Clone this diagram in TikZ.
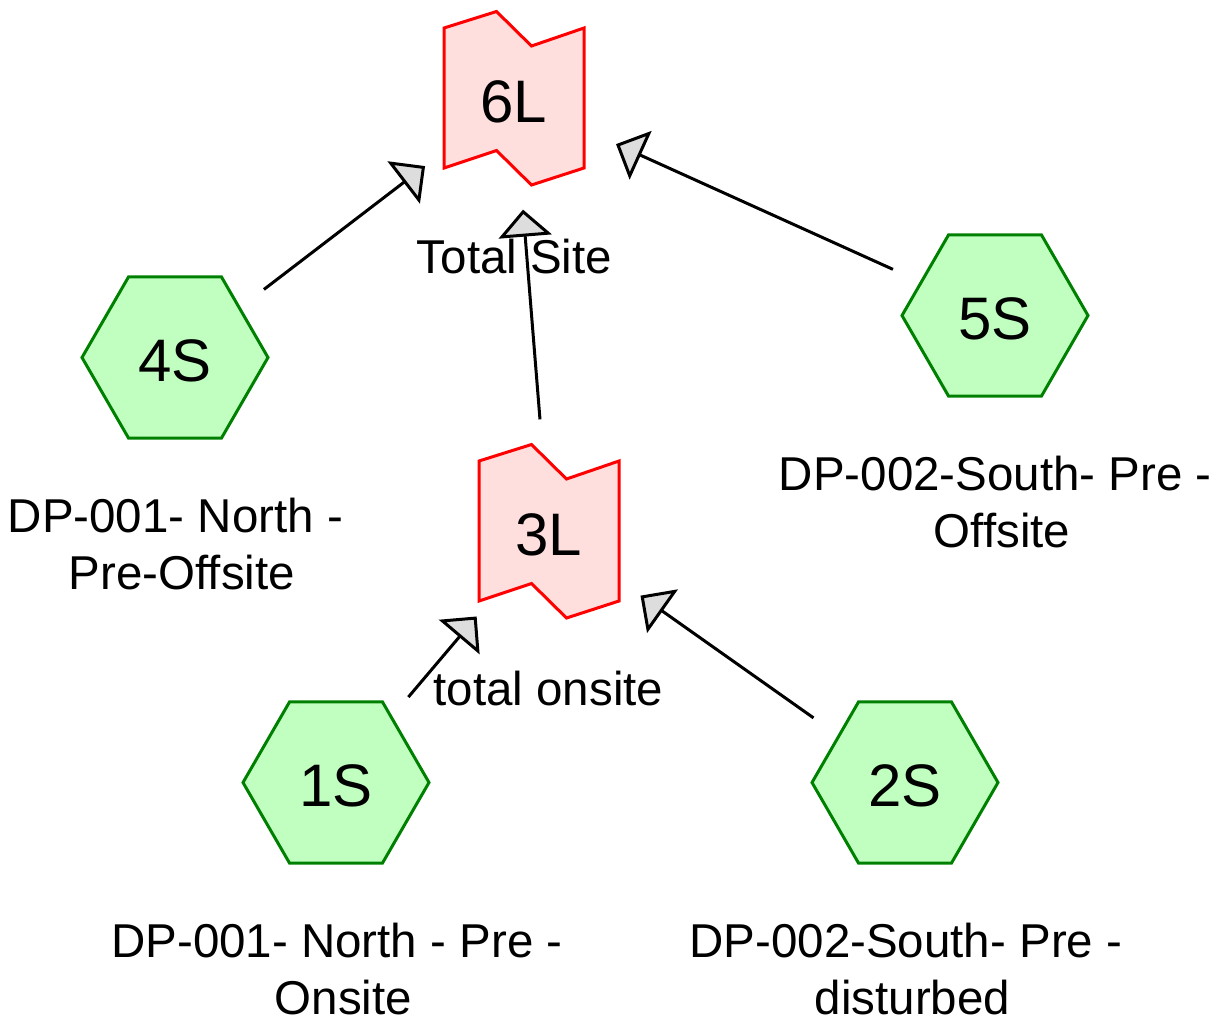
\documentclass[tikz,border=0pt]{standalone}
\usepackage{fontspec}
\setmainfont{Liberation Sans}
\usetikzlibrary{shapes.geometric,arrows.meta,backgrounds}
\definecolor{linkred}{RGB}{255,0,0}
\definecolor{linkfill}{RGB}{255,222,222}
\definecolor{hexgreen}{RGB}{0,128,0}
\definecolor{hexfill}{RGB}{192,255,192}
\definecolor{tipgray}{RGB}{221,221,221}
\tikzset{
  hexnode/.style={regular polygon, regular polygon sides=6, minimum size=186pt,
    inner sep=0pt, draw=hexgreen, fill=hexfill, line width=3pt,
    font=\fontsize{60}{72}\selectfont, text height=48pt, text depth=0pt},
  linknode/.style={inner sep=0pt, font=\fontsize{60}{72}\selectfont,
    text height=48pt, text depth=0pt},
  linkshape/.style={draw=linkred, fill=linkfill, line width=3pt, line join=miter},
  lbl/.style={inner sep=0pt, align=center, font=\fontsize{47.5}{57}\selectfont},
  flow/.style={line width=3pt, -{Triangle[length=27pt,width=53pt,fill=tipgray]},
    shorten <=112pt, shorten >=112pt},
}
\begin{document}
\begin{tikzpicture}[x=1pt,y=-1pt]
\useasboundingbox (0,0) rectangle (1223,1021);
% link (pond/reach) nodes
\node[linknode] (6L) at (514,98) {6L};
\node[linknode] (3L) at (549,531) {3L};
\begin{scope}[on background layer]
  \foreach \n in {6L,3L}{
    \draw[linkshape, shift={(\n.center)}]
      (-70,-70) -- (-17.5,-86.5) -- (17.5,-52) -- (70,-70)
      -- (70,70) -- (17.5,87) -- (-17.5,52.5) -- (-70,70) -- cycle;
  }
\end{scope}
% subcatchments
\node[hexnode] (4S) at (175,357.5) {4S};
\node[hexnode] (5S) at (995,315.5) {5S};
\node[hexnode] (1S) at (336,782.5) {1S};
\node[hexnode] (2S) at (905,782.5) {2S};
% connectors
\draw[flow] (4S.center) -- (6L.center);
\draw[flow] (3L.center) -- (6L.center);
\draw[flow] (5S.center) -- (6L.center);
\draw[flow] (1S.center) -- (3L.center);
\draw[flow] (2S.center) -- (3L.center);
% labels
\node[lbl] (t6L) at (514.5,256.5) {Total Site};
\node[lbl] (t3L) at (548.5,689) {total onsite};
\node[lbl] (t4S) at (182,544.5) {DP-001- North -\hspace*{0.278em}\\Pre-Offsite};
\node[lbl] (t5S) at (1002,502.5) {DP-002-South- Pre -\hspace*{0.278em}\\Offsite};
\node[lbl] (t1S) at (343.5,969) {DP-001- North - Pre -\hspace*{0.278em}\\Onsite};
\node[lbl] (t2S) at (912.5,969) {DP-002-South- Pre -\hspace*{0.278em}\\disturbed};
\end{tikzpicture}
\end{document}
